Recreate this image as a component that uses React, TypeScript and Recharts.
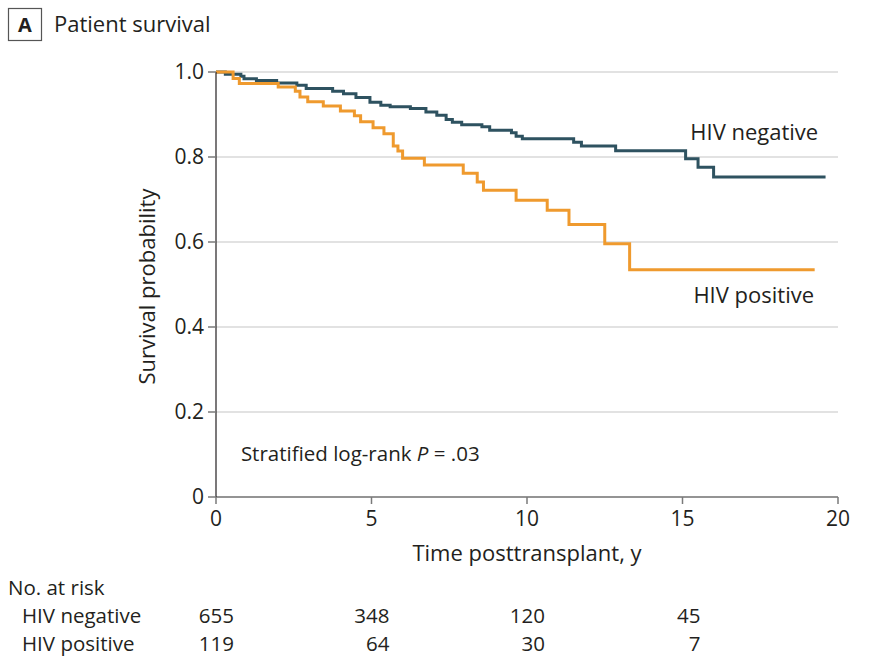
import { LineChart, Line, XAxis, YAxis, CartesianGrid } from 'recharts'

// Kaplan-Meier estimates
const negTimes = [0, 0.3, 0.8, 0.9, 1.3, 1.95, 2.6, 2.9, 3.75, 4.1, 4.5, 4.95, 5.3, 5.6, 6.25, 6.75, 7.1, 7.4, 7.6, 7.9, 8.55, 8.8, 9.5, 9.65, 9.85, 11.5, 11.75, 12.85, 15.1, 15.5, 16.0, 19.6]
const negSurv = [1.0, 0.995, 0.99, 0.984, 0.98, 0.974, 0.969, 0.961, 0.955, 0.949, 0.94, 0.929, 0.922, 0.918, 0.914, 0.906, 0.898, 0.888, 0.882, 0.876, 0.871, 0.863, 0.857, 0.849, 0.843, 0.835, 0.826, 0.815, 0.796, 0.776, 0.753, 0.753]

const posTimes = [0, 0.55, 0.75, 2.0, 2.55, 2.7, 2.95, 3.45, 4.0, 4.45, 4.65, 5.05, 5.4, 5.7, 5.85, 6.0, 6.7, 7.95, 8.4, 8.6, 9.65, 10.65, 11.35, 12.5, 13.3, 19.25]
const posSurv = [1.0, 0.985, 0.973, 0.965, 0.955, 0.941, 0.93, 0.92, 0.908, 0.897, 0.883, 0.869, 0.855, 0.826, 0.814, 0.797, 0.781, 0.762, 0.741, 0.722, 0.698, 0.675, 0.641, 0.596, 0.535, 0.535]

const xTicks = [0, 5, 10, 15, 20]
const yTicks = [0, 0.2, 0.4, 0.6, 0.8, 1.0]

const riskTimes = [0, 5, 10, 15]
const riskNeg = [655, 348, 120, 45]
const riskPos = [119, 64, 30, 7]

const NEG_COLOR = '#2e5260'
const POS_COLOR = '#ef9a2e'
const TEXT = '#231f20'
const FONT = '"Open Sans", sans-serif'

const W = 871
const H = 667
const Y_AXIS_W = 60
const X_AXIS_H = 30
const MARGIN = { top: 72, right: 33, bottom: 140, left: 156 }
const PLOT_L = MARGIN.left + Y_AXIS_W
const PLOT_W = W - PLOT_L - MARGIN.right
const PLOT_T = MARGIN.top
const PLOT_H = H - MARGIN.top - MARGIN.bottom - X_AXIS_H

const xPx = (t: number) => PLOT_L + (t / 20) * PLOT_W
const yPx = (s: number) => PLOT_T + (1 - s) * PLOT_H

const negData = negTimes.map((t, i) => ({ t, s: negSurv[i] }))
const posData = posTimes.map((t, i) => ({ t, s: posSurv[i] }))

const RISK_FS = 20.5

export default function App() {
  return (
    <div style={{ position: 'absolute', left: 0, top: 0, width: W, height: H, background: '#fff', fontFamily: FONT }}>
      <LineChart width={W} height={H} margin={MARGIN}>
        <CartesianGrid vertical={false} stroke="#d9d9d9" strokeWidth={1.5} />
        <XAxis
          type="number"
          dataKey="t"
          domain={[0, 20]}
          ticks={xTicks}
          height={X_AXIS_H}
          allowDuplicatedCategory={false}
          stroke="#7a7a7a"
          strokeWidth={1.5}
          tickSize={7}
          tickMargin={7}
          tick={{ fill: TEXT, fontSize: 21, fontFamily: FONT }}
        />
        <YAxis
          type="number"
          domain={[0, 1]}
          ticks={yTicks}
          width={Y_AXIS_W}
          axisLine={{ stroke: '#231f20', strokeWidth: 1.2 }}
          tickLine={{ stroke: '#7a7a7a', strokeWidth: 1.5 }}
          tickSize={8}
          tickMargin={4}
          tickFormatter={(v: number) => (v === 0 ? '0' : v.toFixed(1))}
          tick={{ fill: TEXT, fontSize: 21, fontFamily: FONT }}
        />
        <Line data={negData} dataKey="s" type="stepAfter" stroke={NEG_COLOR} strokeWidth={3} dot={false} isAnimationActive={false} />
        <Line data={posData} dataKey="s" type="stepAfter" stroke={POS_COLOR} strokeWidth={3} dot={false} isAnimationActive={false} />
      </LineChart>

      <svg width={W} height={H} style={{ position: 'absolute', left: 0, top: 0, pointerEvents: 'none' }} fontFamily={FONT} fill={TEXT}>
        {/* panel title */}
        <rect x={8.5} y={8.5} width={33} height={32} fill="none" stroke="#555" strokeWidth={1.2} />
        <text x={25} y={32} fontSize={20} fontWeight={700} textAnchor="middle">A</text>
        <text x={54} y={32} fontSize={22}>Patient survival</text>

        {/* axis titles */}
        <text x={0} y={0} fontSize={22} textAnchor="middle" transform={`translate(155, ${PLOT_T + PLOT_H / 2 + 2}) rotate(-90)`}>Survival probability</text>
        <text x={xPx(10)} y={561} fontSize={22} textAnchor="middle">Time posttransplant, y</text>

        {/* curve labels */}
        <text x={xPx(15.25)} y={yPx(0.855) + 6} fontSize={22}>HIV negative</text>
        <text x={xPx(15.35)} y={yPx(0.47) + 6} fontSize={22}>HIV positive</text>
        <text x={xPx(0.8)} y={yPx(0.1) + 6} fontSize={20.5}>
          Stratified log-rank <tspan fontStyle="italic">P</tspan> = .03
        </text>

        {/* risk table */}
        <text x={8} y={595} fontSize={RISK_FS}>No. at risk</text>
        <text x={22} y={623} fontSize={RISK_FS}>HIV negative</text>
        <text x={22} y={651} fontSize={RISK_FS}>HIV positive</text>
        {riskTimes.map((t, i) => (
          <text key={'n' + i} x={xPx(t) + 18} y={623} fontSize={RISK_FS} textAnchor="end">{riskNeg[i]}</text>
        ))}
        {riskTimes.map((t, i) => (
          <text key={'p' + i} x={xPx(t) + 18} y={651} fontSize={RISK_FS} textAnchor="end">{riskPos[i]}</text>
        ))}
      </svg>
    </div>
  )
}
